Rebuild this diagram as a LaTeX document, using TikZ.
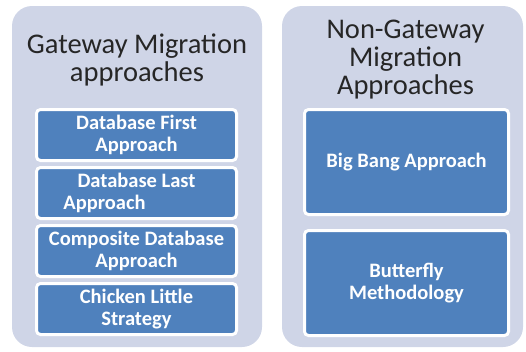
\documentclass[tikz,border=0pt]{standalone}
\usepackage{fontspec}
\setmainfont{Carlito}
\definecolor{panelgray}{RGB}{207,213,231}
\definecolor{boxblue}{RGB}{79,129,189}
\tikzset{
  panel/.style={fill=panelgray,draw=none,rounded corners=20pt},
  approach/.style={draw=white,line width=3pt,fill=boxblue,rounded corners=4pt,
    text=white,font=\bfseries\fontsize{20.5}{21.5}\selectfont,align=center,inner sep=0pt},
  heading/.style={align=center,font=\fontsize{28.5}{28}\selectfont,text=black!85}
}

\begin{document}
\begin{tikzpicture}[x=1pt,y=-1pt]
\useasboundingbox (0,0) rectangle (526,351);
\fill[panel] (12,6) rectangle (262,347);
\fill[panel] (282,6) rectangle (523,347);
\node[heading] (gw) at (137,59.5) {Gateway Migration\\approaches};
\node[heading] (ngw) at (405.5,60) {Non-Gateway\\Migration\\Approaches};

\node[approach,minimum width=200pt,minimum height=51pt] (first) at (136.5,135) {Database First\\Approach};
\node[approach,minimum width=200pt,minimum height=51pt] (last) at (136.5,193) {Database Last\\Approach\hspace*{64pt}};
\node[approach,minimum width=200pt,minimum height=51pt] (comp) at (136.5,251) {Composite Database\\Approach};
\node[approach,minimum width=200pt,minimum height=51pt] (chick) at (136.5,309) {Chicken Little\\Strategy};

\node[approach,minimum width=204pt,minimum height=105pt] (bang) at (406.5,162) {Big Bang Approach};
\node[approach,minimum width=204pt,minimum height=105pt] (fly) at (406.5,283) {Butterfly\\Methodology};

\end{tikzpicture}
\end{document}
